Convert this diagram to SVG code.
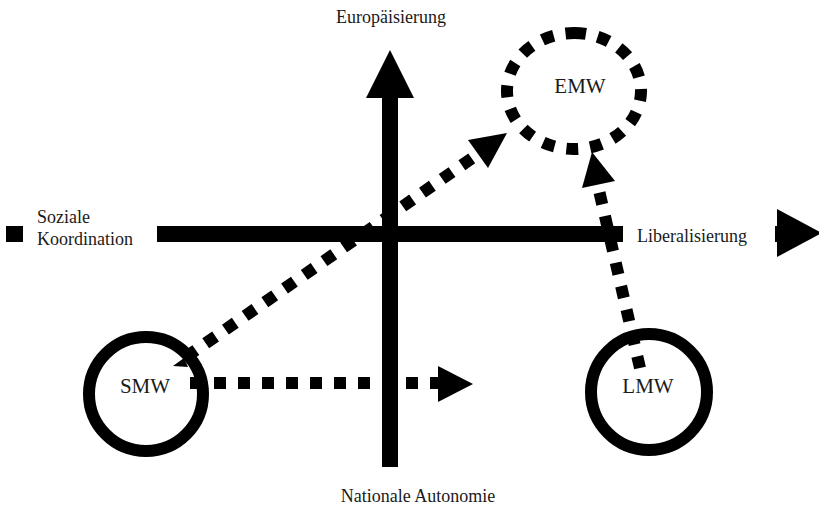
<svg xmlns="http://www.w3.org/2000/svg" width="819" height="511" viewBox="0 0 819 511">
<style>
.lbl{font-family:"Liberation Serif","Times New Roman",serif;font-size:18px;fill:#1a1a1a}
.node{font-family:"Liberation Serif","Times New Roman",serif;font-size:21px;fill:#1a1a1a;text-anchor:middle}
.ring{fill:none;stroke:#000;stroke-width:12}
.dash{fill:none;stroke:#000;stroke-width:12;stroke-dasharray:12 12}
.axis{fill:#000}
</style>
<rect width="819" height="511" fill="#fff"/>
<g id="axes">
  <rect class="axis" x="382" y="97" width="16" height="370"/>
  <polygon class="axis" points="366,98 390,50 414,98"/>
  <rect class="axis" x="157" y="226" width="466" height="16"/>
  <rect class="axis" x="6" y="226" width="17" height="16"/>
  <rect class="axis" x="775" y="226" width="5" height="16"/>
  <polygon class="axis" points="777,209 822,233 777,257"/>
</g>
<g id="axis-labels">
  <text class="lbl" x="391" y="23" text-anchor="middle">Europäisierung</text>
  <text class="lbl" x="418" y="502" text-anchor="middle">Nationale Autonomie</text>
  <text class="lbl" x="37" y="223">Soziale</text>
  <text class="lbl" x="37" y="245">Koordination</text>
  <text class="lbl" x="637" y="242">Liberalisierung</text>
</g>
<g id="connectors">
  <line class="dash" x1="190" y1="383" x2="438" y2="383"/>
  <polygon points="438,366 473,384 438,402"/>
  <line class="dash" x1="186" y1="357" x2="478" y2="154"/>
  <polygon points="468,140 507,133 488,168"/>
  <polygon points="173,366 184,358 188,367"/>
  <line class="dash" x1="640" y1="368" x2="598" y2="186"/>
  <polygon points="582,188 592,152 615,181"/>
</g>
<g id="node-SMW">
  <circle class="ring" cx="146" cy="394" r="57"/>
  <text class="node" x="145" y="393">SMW</text>
</g>
<g id="node-LMW">
  <circle class="ring" cx="649" cy="392" r="58"/>
  <text class="node" x="648" y="393">LMW</text>
</g>
<g id="node-EMW">
  <path class="dash" d="M574,33 A67,58 0 1 1 574,149 A67,58 0 1 1 574,33"/>
  <text class="node" x="580" y="93">EMW</text>
</g>
</svg>
